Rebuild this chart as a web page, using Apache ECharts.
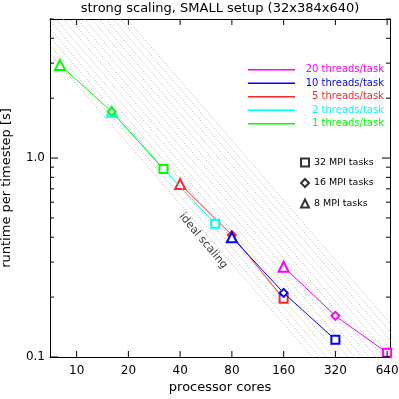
<!DOCTYPE html>
<html><head><meta charset="utf-8">
<script src="https://cdn.jsdelivr.net/npm/echarts@6/dist/echarts.min.js"></script>
<style>html,body{margin:0;padding:0;background:#fff}#c{width:399px;height:399px}</style>
</head><body><div id="c"></div>
<script>
// ---- data ----
const xTicks = [10, 20, 40, 80, 160, 320, 640];
const yMajor = [0.1, 1];
const yMinor = [0.2, 0.3, 0.4, 0.5, 0.6, 0.7, 0.8, 0.9, 2, 3, 4, 5];
const seriesNames = ['20 threads/task', '10 threads/task', '5 threads/task', '2 threads/task', '1 threads/task'];
const cores20 = [160, 320, 640];  const time20 = [0.284, 0.161, 0.105];
const cores10 = [80, 160, 320];   const time10 = [0.40, 0.21, 0.122];
const cores5  = [40, 80, 160];    const time5  = [0.74, 0.41, 0.196];
const cores2  = [16, 32, 64];     const time2  = [1.71, 0.88, 0.467];
const cores1  = [8, 16, 32];      const time1  = [2.94, 1.71, 0.88];
const mpiTasks = [8, 16, 32];
const mpiLabels = ['32 MPI tasks', '16 MPI tasks', '8 MPI tasks'];
const idealConst = [23.5, 25.85, 28.44, 31.28, 34.41, 37.85, 41.63, 45.8, 50.38, 55.41, 60.95, 67.05, 73.76, 81.13, 89.25, 98.17];
const idealLabel = ['ideal scaling'];
const idealLabelAt = [54.5, 0.383];

// ---- style ----
const colors = {'20 threads/task':'#ff00ff','10 threads/task':'#0000ff','5 threads/task':'#ff2828','2 threads/task':'#00ffff','1 threads/task':'#00ff00'};
const symOf = {8:'emptyTriangle', 16:'emptyDiamond', 32:'emptyRect'};
const sizeOf = {8:10, 16:8, 32:8};
const FONT = 'DejaVu Sans';
const X_MIN = 7, X_MAX = 665, Y_MIN = 0.1, Y_MAX = 5;
const GRID = {left: 50, right: 9, top: 19, bottom: 42};
const PLOT_W = 399 - GRID.left - GRID.right, PLOT_H = 399 - GRID.top - GRID.bottom;

function runSeries(name, cores, times, z) {
  return {
    type: 'line', name: name, z: z,
    xAxisIndex: 0, yAxisIndex: 0,
    lineStyle: {color: colors[name], width: 1},
    itemStyle: {color: colors[name], borderWidth: 1},
    color: colors[name],
    silent: true, animation: false,
    data: cores.map((c, i) => {
      const mpi = mpiTasks[i];
      return {value: [c, times[i]], symbol: symOf[mpi], symbolSize: sizeOf[mpi]};
    })
  };
}

const series = [];
idealConst.forEach(C => {
  series.push({
    type: 'line', z: 1, silent: true, animation: false, symbol: 'none',
    xAxisIndex: 0, yAxisIndex: 0,
    lineStyle: {color: '#ababab', width: 1, type: [1, 2]},
    data: [[X_MIN * 0.5, C / (X_MIN * 0.5)], [X_MAX * 2, C / (X_MAX * 2)]]
  });
});
series.push(runSeries('20 threads/task', cores20, time20, 3));
series.push(runSeries('5 threads/task', cores5, time5, 3));
series.push(runSeries('10 threads/task', cores10, time10, 4));
series.push(runSeries('2 threads/task', cores2, time2, 4));
series.push(runSeries('1 threads/task', cores1, time1, 5));
mpiLabels.forEach((n, i) => {
  series.push({type: 'scatter', name: n, data: [], color: '#000', symbol: ['emptyRect','emptyDiamond','emptyTriangle'][i]});
});
series.push({
  type: 'scatter', z: 6, silent: true, symbolSize: 0, animation: false,
  data: [idealLabelAt],
  label: {show: true, position: 'inside', formatter: idealLabel[0], rotate: -50,
          fontFamily: FONT, fontSize: 11, color: '#000'}
});

// inward, mirrored axis ticks drawn as short segments on the log axes
function tickSeg(a, b) {
  series.push({
    type: 'line', z: 8, silent: true, animation: false, symbol: 'none', clip: false,
    xAxisIndex: 0, yAxisIndex: 0,
    lineStyle: {color: '#000', width: 1},
    data: [a, b]
  });
}
const yStep = px => Math.pow(Y_MAX / Y_MIN, px / PLOT_H);
const xStep = px => Math.pow(X_MAX / X_MIN, px / PLOT_W);
xTicks.forEach(v => {
  tickSeg([v, Y_MIN], [v, Y_MIN * yStep(6)]);
  tickSeg([v, Y_MAX], [v, Y_MAX / yStep(6)]);
});
yMajor.forEach(v => {
  tickSeg([X_MIN, v], [X_MIN * xStep(8), v]);
  tickSeg([X_MAX, v], [X_MAX / xStep(8), v]);
});
yMinor.forEach(v => {
  tickSeg([X_MIN, v], [X_MIN * xStep(4), v]);
  tickSeg([X_MAX, v], [X_MAX / xStep(4), v]);
});

const richLegend = {};
seriesNames.forEach((n, i) => {
  richLegend['c' + i] = {color: colors[n], fontFamily: FONT, fontSize: 10, width: 84, align: 'right', lineHeight: 13.5};
});

const axisLineStyle = {color: '#000', width: 1};
const option = {
  backgroundColor: '#fff',
  animation: false,
  title: {
    text: 'strong scaling, SMALL setup (32x384x640)',
    left: 220, top: 0, textAlign: 'center', padding: [2, 0, 0, 0],
    textStyle: {fontFamily: FONT, fontSize: 13, fontWeight: 'normal', color: '#000'}
  },
  grid: {left: GRID.left, right: GRID.right, top: GRID.top, bottom: GRID.bottom, outerBoundsMode: 'none', containLabel: false},
  legend: [{
    data: seriesNames, orient: 'vertical', left: 248, top: 63, padding: 0,
    itemWidth: 47, itemHeight: 1.5, itemGap: 0, icon: 'rect', selectedMode: false,
    formatter: name => '{c' + seriesNames.indexOf(name) + '|' + name + '}',
    textStyle: {rich: richLegend, fontFamily: FONT, fontSize: 10, lineHeight: 13.5}
  }, {
    data: mpiLabels.map((n, i) => ({name: n, icon: ['emptyRect','emptyDiamond','emptyTriangle'][i]})),
    orient: 'vertical', left: 300, top: 157, padding: 0,
    itemWidth: 8, itemHeight: 8, itemGap: 9.5, selectedMode: false,
    textStyle: {fontFamily: FONT, fontSize: 9.5, color: '#000', lineHeight: 11}
  }],
  xAxis: [{
    type: 'log', logBase: 10, min: X_MIN, max: X_MAX, position: 'bottom',
    name: 'processor cores', nameLocation: 'middle', nameGap: 24, nameMoveOverlap: false,
    nameTextStyle: {fontFamily: FONT, fontSize: 13, color: '#000'},
    axisLine: {show: true, lineStyle: axisLineStyle},
    axisTick: {show: false},
    axisLabel: {show: true, customValues: xTicks, margin: 8, fontFamily: FONT, fontSize: 12, color: '#000',
                formatter: v => String(Math.round(v))},
    splitLine: {show: false}, minorTick: {show: false}
  }, {
    type: 'log', logBase: 10, min: X_MIN, max: X_MAX, position: 'top',
    axisLine: {show: true, lineStyle: axisLineStyle},
    axisTick: {show: false}, axisLabel: {show: false}, splitLine: {show: false}
  }],
  yAxis: [{
    type: 'log', logBase: 10, min: Y_MIN, max: Y_MAX, position: 'left',
    name: 'runtime per timestep [s]', nameLocation: 'middle', nameGap: 37, nameMoveOverlap: false,
    nameTextStyle: {fontFamily: FONT, fontSize: 13, color: '#000'},
    axisLine: {show: true, lineStyle: axisLineStyle},
    axisTick: {show: false},
    axisLabel: {show: true, customValues: yMajor, margin: 5, fontFamily: FONT, fontSize: 12, color: '#000',
                formatter: v => Number(v).toFixed(1)},
    splitLine: {show: false}
  }, {
    type: 'log', logBase: 10, min: Y_MIN, max: Y_MAX, position: 'right',
    axisLine: {show: true, lineStyle: axisLineStyle},
    axisTick: {show: false}, axisLabel: {show: false}, splitLine: {show: false}
  }],
  series: series
};
const chart = echarts.init(document.getElementById('c'), null, {renderer: 'canvas'});
chart.setOption(option);
</script>
</body></html>
